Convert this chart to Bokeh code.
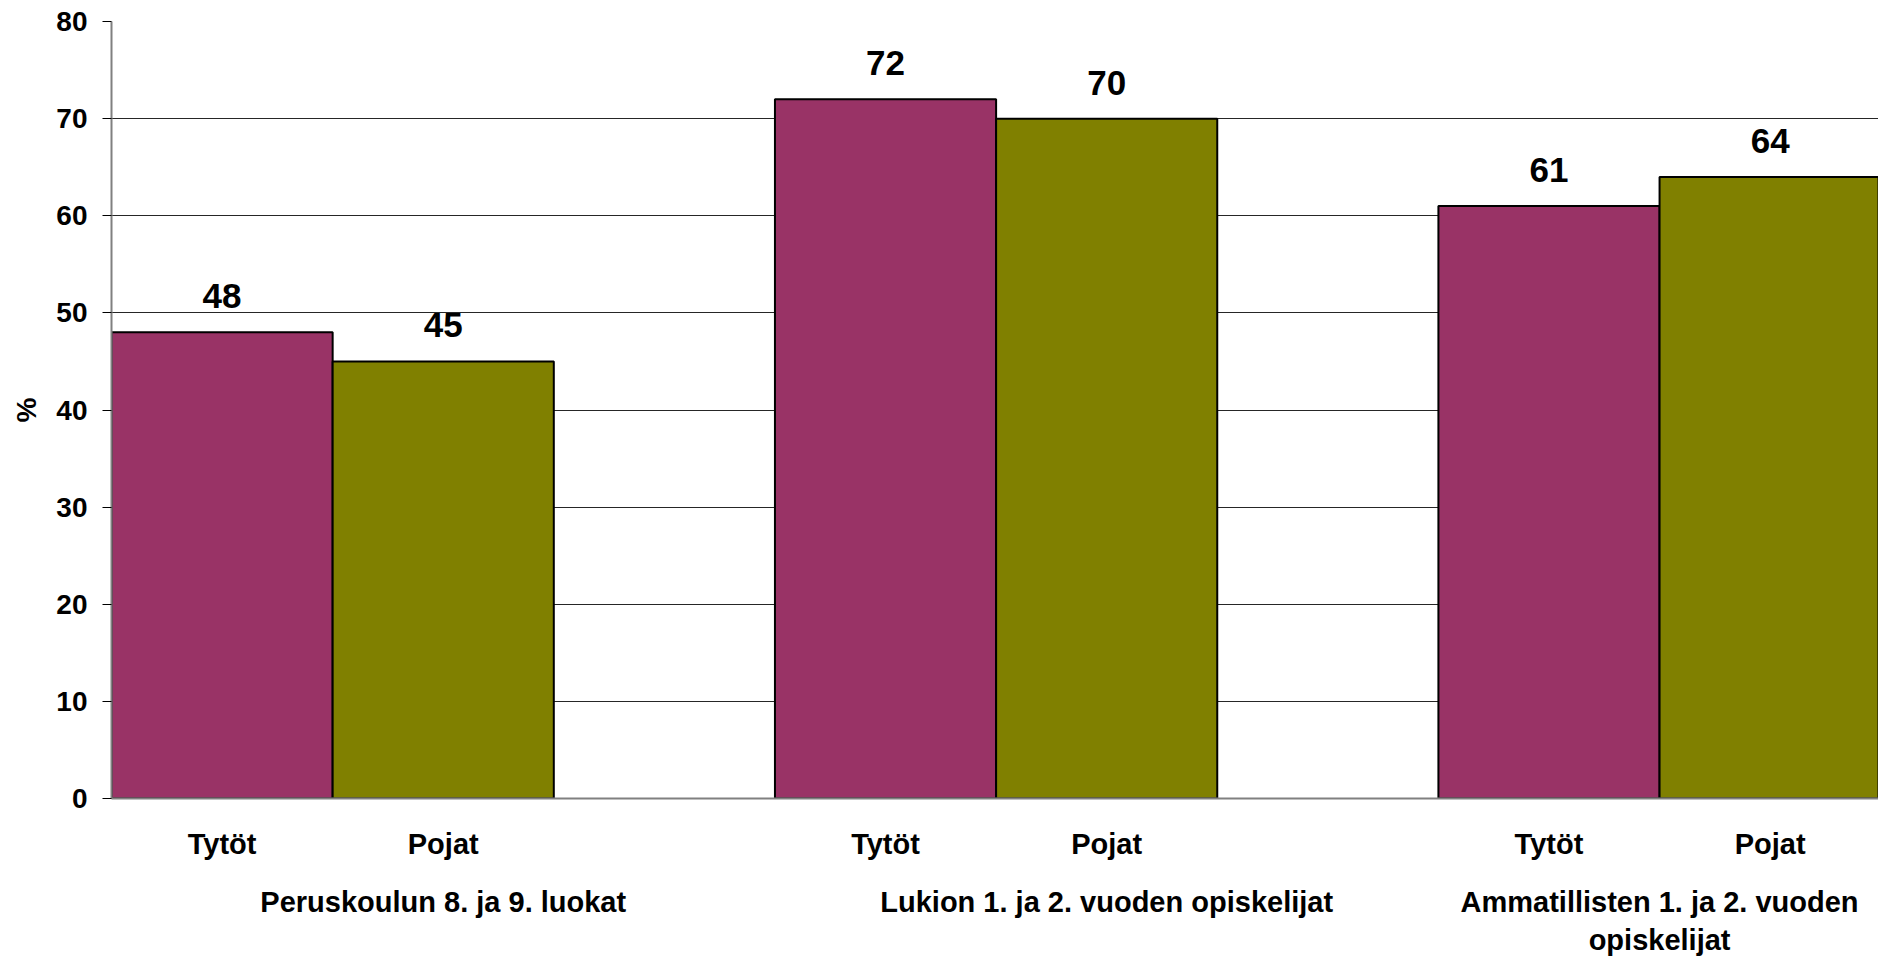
from bokeh.plotting import figure
from bokeh.models import ColumnDataSource, Range1d, LinearAxis, FixedTicker
from bokeh.core.properties import value
from bokeh.embed import file_html
from bokeh.resources import INLINE

groups = ["Peruskoulun 8. ja 9. luokat", "Lukion 1. ja 2. vuoden opiskelijat",
          "Ammatillisten 1. ja 2. vuoden\nopiskelijat"]
sexes = ["Tytöt", "Pojat"]
tytot = [48, 72, 61]
pojat = [45, 70, 64]
colors = {"Tytöt": "#993366", "Pojat": "#808000"}
y_ticks = [0, 10, 20, 30, 40, 50, 60, 70, 80]

FONT = "Liberation Sans"

# category layout: each group occupies 3 slots (2 bars + gap)
xs, tops, cols, labs = [], [], [], []
for gi, g in enumerate(groups):
    for si, (s, vals) in enumerate(zip(sexes, [tytot, pojat])):
        xs.append(gi * 3 + si + 0.5)
        tops.append(vals[gi])
        cols.append(colors[s])
        labs.append(str(vals[gi]))
src = ColumnDataSource(dict(x=xs, top=tops, color=cols, label=labs))

p = figure(width=1878, height=958, output_backend="svg", toolbar_location=None,
           x_range=Range1d(0, 7.99), y_range=Range1d(0, 80),
           x_axis_location=None, y_axis_location=None,
           min_border_left=111, min_border_right=0, min_border_top=21,
           min_border_bottom=159)
p.outline_line_color = None
p.background_fill_color = "white"
p.border_fill_color = "white"

p.vbar(x="x", top="top", width=1, bottom=0, fill_color="color",
       line_color="black", line_width=2, source=src)
p.text(x="x", y="top", text="label", source=src, text_align="center",
       text_baseline="alphabetic", y_offset=-36,
       text_font=value(FONT), text_font_style="bold", text_font_size="35px",
       text_color="black")

# y axis
yax = LinearAxis(ticker=FixedTicker(ticks=y_ticks))
yax.axis_label = "%"
yax.axis_label_text_font = FONT
yax.axis_label_text_font_style = "bold"
yax.axis_label_text_font_size = "28px"
yax.axis_label_text_color = "black"
yax.axis_label_standoff = 11
yax.major_label_text_font = FONT
yax.major_label_text_font_style = "bold"
yax.major_label_text_font_size = "28px"
yax.major_label_text_color = "black"
yax.major_label_standoff = 15
yax.axis_line_color = "#808080"
yax.axis_line_width = 2
yax.major_tick_line_color = "black"
yax.major_tick_out = 9
yax.major_tick_in = 0
yax.minor_tick_line_color = None
p.add_layout(yax, "left")

# x axis: sub-category labels
bar_ticks = xs
xax = LinearAxis(ticker=FixedTicker(ticks=bar_ticks))
xax.major_label_overrides = {x: sexes[i % 2] for i, x in enumerate(bar_ticks)}
xax.major_label_text_font = FONT
xax.major_label_text_font_style = "bold"
xax.major_label_text_font_size = "29px"
xax.major_label_text_color = "black"
xax.major_label_standoff = 29
xax.major_tick_line_color = None
xax.major_tick_out = 0
xax.major_tick_in = 0
xax.minor_tick_line_color = None
xax.axis_line_color = "#808080"
xax.axis_line_width = 2
p.add_layout(xax, "below")

# x axis: group labels
group_ticks = [1.5, 4.5, 7.0]
gax = LinearAxis(ticker=FixedTicker(ticks=group_ticks))
gax.major_label_overrides = {t: groups[i] for i, t in enumerate(group_ticks)}
gax.major_label_text_font = FONT
gax.major_label_text_font_style = "bold"
gax.major_label_text_font_size = "29px"
gax.major_label_text_color = "black"
gax.major_label_standoff = 23
gax.major_tick_line_color = None
gax.major_tick_out = 0
gax.major_tick_in = 0
gax.minor_tick_line_color = None
gax.axis_line_color = None
p.add_layout(gax, "below")

p.xgrid.grid_line_color = None
p.ygrid.ticker = FixedTicker(ticks=y_ticks)
p.ygrid.grid_line_color = "black"
p.ygrid.grid_line_width = 1
p.ygrid.grid_line_alpha = 0.85

open("out.html", "w").write(file_html(p, INLINE))
